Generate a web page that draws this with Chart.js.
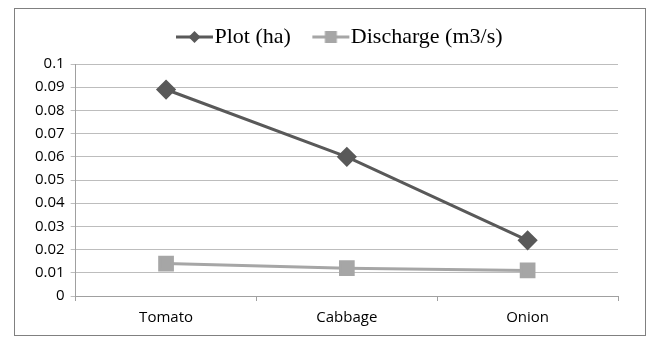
<!DOCTYPE html>
<html>
<head>
<meta charset="utf-8">
<script src="https://cdn.jsdelivr.net/npm/chart.js@4"></script>
<style>
  html, body { margin: 0; padding: 0; background: #fff; }
  #box {
    position: absolute; left: 14px; top: 8px;
    width: 630px; height: 326px;
    border: 1px solid #808080;
  }
</style>
</head>
<body>
<div id="box"><canvas id="chart"></canvas></div>
<script>
var crops = ["Tomato", "Cabbage", "Onion"];
var plotHa = [0.089, 0.060, 0.024];
var discharge = [0.014, 0.012, 0.011];

// legend icon: line with a marker in the middle, like the Excel legend
// canvas is wide so the line lands right before the label text
function legendIcon(color, shape) {
  const c = document.createElement("canvas");
  c.width = 80; c.height = 14;
  const ctx = c.getContext("2d");
  ctx.strokeStyle = color;
  ctx.lineWidth = 3;
  ctx.beginPath();
  ctx.moveTo(26, 7);
  ctx.lineTo(63, 7);
  ctx.stroke();
  ctx.fillStyle = color;
  ctx.beginPath();
  if (shape === "diamond") {
    ctx.moveTo(44.5, 1); ctx.lineTo(50.5, 7); ctx.lineTo(44.5, 13); ctx.lineTo(38.5, 7);
  } else {
    ctx.rect(38.5, 1, 12, 12);
  }
  ctx.closePath();
  ctx.fill();
  return c;
}

const data_chart = {
  labels: crops,
  datasets: [
    {
      label: "Plot (ha)",
      data: plotHa,
      borderColor: "#595959",
      backgroundColor: "#595959",
      borderWidth: 3,
      pointStyle: "rectRot",
      pointRadius: 8,
      pointHoverRadius: 8,
      tension: 0,
    },
    {
      label: "Discharge (m3/s)",
      data: discharge,
      borderColor: "#a6a6a6",
      backgroundColor: "#a6a6a6",
      borderWidth: 3,
      pointStyle: "rect",
      pointRadius: 9,
      pointHoverRadius: 9,
      tension: 0,
    },
  ],
};

const icons = [legendIcon("#595959", "diamond"), legendIcon("#a6a6a6", "square")];

// a bit more room under the legend, and nudge it right like the original
const legendSpace = {
  id: "legendSpace",
  beforeInit(chart) {
    const fit = chart.legend.fit;
    chart.legend.fit = function () {
      fit.bind(chart.legend)();
      this.height += 6;
    };
    const draw = chart.legend.draw;
    chart.legend.draw = function () {
      this.ctx.save();
      this.ctx.translate(16, 0);
      draw.call(this);
      this.ctx.restore();
    };
  },
};

const config_chart = {
  type: "line",
  data: data_chart,
  plugins: [legendSpace],
  options: {
    responsive: true,
    maintainAspectRatio: false,
    animation: false,
    layout: { padding: { left: 14, right: 27, top: -5, bottom: 0 } },
    scales: {
      x: {
        offset: true,
        grid: {
          offset: true,
          drawOnChartArea: false,
          drawTicks: true,
          tickLength: 5,
          color: "#a0a0a0",
        },
        border: { color: "#a0a0a0", width: 1 },
        ticks: {
          color: "#000",
          font: { family: "Open Sans", size: 15 },
          padding: 8,
        },
      },
      y: {
        min: 0,
        max: 0.1,
        ticks: {
          stepSize: 0.01,
          color: "#000",
          font: { family: "Open Sans", size: 15 },
          padding: 6,
          callback: (v) => +v.toFixed(2),
        },
        grid: {
          color: "#bdbdbd",
          tickLength: 5,
        },
        border: { color: "#a0a0a0", width: 1 },
      },
    },
    plugins: {
      legend: {
        display: true,
        position: "top",
        labels: {
          usePointStyle: true,
          pointStyleWidth: 27,
          color: "#000",
          font: { family: "Liberation Serif", size: 22 },
          padding: 22,
          boxHeight: 14,
          generateLabels: (chart) =>
            chart.data.datasets.map((ds, i) => ({
              text: ds.label,
              pointStyle: icons[i],
              fillStyle: ds.backgroundColor,
              strokeStyle: ds.borderColor,
              lineWidth: 0,
              fontColor: "#000",
              datasetIndex: i,
            })),
        },
      },
      tooltip: { enabled: false },
    },
  },
};

const myChart = new Chart(document.getElementById("chart"), config_chart);
</script>
</body>
</html>
